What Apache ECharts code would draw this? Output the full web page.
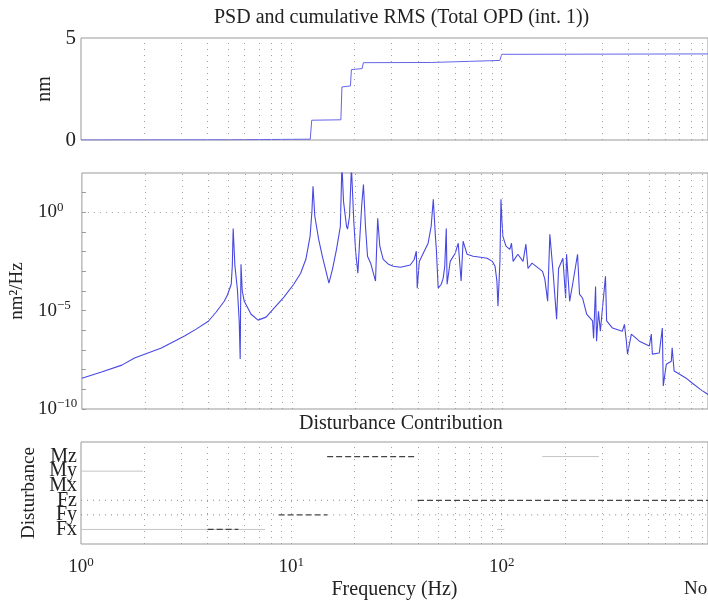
<!DOCTYPE html>
<html>
<head>
<meta charset="utf-8">
<script src="https://cdn.jsdelivr.net/npm/echarts@6/dist/echarts.min.js"></script>
<style>
html,body{margin:0;padding:0;background:#fff;}
#main{width:708px;height:601px;}
</style>
</head>
<body>
<div id="main"></div>
<script>
// cumulative RMS (nm) vs frequency (Hz)
var rmsFreq = [1, 5.2, 12.3, 12.5, 17.2, 17.4, 19.1, 19.3, 21.7, 22, 46.5, 47.2, 98, 100, 957];
var rmsVal  = [0, 0.01, 0.04, 0.97, 0.99, 2.6, 2.65, 3.45, 3.5, 3.79, 3.8, 3.87, 3.9, 4.2, 4.22];

// PSD (nm^2/Hz) vs frequency (Hz)
var psdFreq = [1, 1.24, 1.55, 1.78, 2.39, 3.08, 3.5, 4.0, 4.35, 4.76, 4.93, 5.14, 5.2, 5.25, 5.35, 5.5, 5.61, 5.67, 5.72, 5.8, 5.93,
  6.39, 6.9, 7.53, 8.22, 9.16, 10.2, 11.0, 11.65, 12.2, 12.45, 12.6, 12.85, 13.4, 13.95, 14.6, 15.0, 15.6, 16.3, 17.0, 17.3,
  17.6, 18.2, 18.4, 18.8, 19.2, 19.7, 20.1, 20.6, 21.0, 21.5, 21.9, 22.4, 22.9, 23.7, 25.0, 25.6, 26.2, 27.2, 28.8, 30.4, 32.9,
  36.6, 38.2, 39.1, 39.5, 40.4, 42.2, 44.5, 46.0, 47.1, 48.2, 48.7, 49.7, 51.4, 52.5, 53.4, 54.3, 54.8, 56.7, 59.9, 61.9, 63.9,
  65.3, 68.2, 72.9, 79, 85, 90, 92.7, 94.6, 95.7, 97.8, 98.9, 100, 101, 104.5, 109, 111, 113, 119, 126, 130, 133,
  139, 156, 160, 165, 169, 175, 182, 186, 195, 201, 203, 210, 217, 229, 234, 242, 253, 270, 273, 279, 282, 288, 294, 311, 315, 336, 374,
  383, 391, 396, 413, 451, 503, 514, 520, 561, 580, 586, 606, 640, 646, 660, 698, 750, 804, 880, 957];
var psdVal = [3.7e-9, 7.6e-9, 1.7e-8, 3.9e-8, 1.25e-7, 5.1e-7, 1.15e-6, 2.9e-6, 8.3e-6, 3.0e-5, 6.3e-5, 2.2e-4, 1.8e-3, 0.15, 2e-3, 1.2e-4, 3e-6, 3.5e-8, 2.3e-3, 1e-4, 3e-5,
  6.6e-6, 3.3e-6, 4.7e-6, 1.35e-5, 4.9e-5, 2.2e-4, 8e-4, 4.1e-3, 0.06, 1.1, 21, 0.63, 0.043, 5.9e-3, 8e-4, 2.5e-4, 1.3e-3, 0.013, 0.19, 300,
  3.6, 0.19, 0.14, 0.63, 200, 0.35, 0.0105, 8e-4, 0.034, 2.5, 26, 0.19, 5.9e-3, 2.6e-3, 3.2e-4, 0.5, 0.019, 4.1e-3, 2.3e-3, 1.8e-3, 1.6e-3,
  2.1e-3, 4e-3, 0.0105, 1.4e-4, 3.2e-3, 8.3e-3, 0.027, 0.19, 4.6, 0.06, 0.013, 1.4e-4, 2.2e-4, 4.5e-4, 1.8e-3, 0.15, 2.2e-4, 3.2e-3, 8.3e-3, 0.027, 3.2e-4,
  0.034, 7.4e-3, 5.9e-3, 5.2e-3, 4.6e-3, 3.2e-3, 1.8e-3, 3.2e-4, 1.7e-5, 3.2e-3, 4.6, 0.35, 0.06, 0.019, 0.013, 0.027, 3.2e-3, 7.4e-3, 3.2e-3, 0.024, 1.4e-3,
  2.6e-3, 1e-3, 4e-4, 3e-5, 0.076, 1e-3, 3.7e-6, 1.4e-3, 4.6e-3, 4.3e-5, 7.4e-3, 3e-5, 2.2e-4, 7.4e-3, 6.9e-5, 4.3e-5, 6.6e-6, 3e-6, 4e-7, 1.7e-4, 2.8e-7, 9.4e-6, 9e-7, 5.6e-4, 3e-6, 1.3e-6, 9e-7,
  2e-6, 2.8e-7, 6.2e-8, 6.4e-7, 2.8e-7, 1.6e-7, 6.4e-7, 6.2e-8, 7e-8, 1.3e-6, 1.5e-9, 1.9e-8, 2.7e-8, 1.3e-7, 8.5e-9, 6e-9, 3.8e-9, 2.1e-9, 1e-9, 5.5e-10];

// disturbance contribution: [category index, f start, f end]
var distNames = ['Fx', 'Fy', 'Fz', 'Mx', 'My', 'Mz'];
var strongSegs = [[1, 4.0, 5.6], [2, 8.7, 14.8], [6, 14.8, 39.5], [3, 40, 957]];
var faintSegs  = [[1, 1, 7.5], [5, 1, 1.97], [6, 156, 290], [1, 95, 103]];
var dottedSegs = [[2, 1, 8.7], [2, 14.8, 957], [3, 1, 40]];

// grid line positions
var freqGrid = [2, 3, 4, 5, 6, 7, 8, 9, 10, 20, 30, 40, 50, 60, 70, 80, 90, 100, 200, 300, 400, 500, 600, 700, 800, 900];
var psdGrid = [1, 1e-5];

var fontFam = 'Liberation Serif';
var gridCol = '#a0a0a0';
var lineCol = '#4848e2';

var myChart = echarts.init(document.getElementById('main'));

function pairs(xs, ys) {
	var out = [];
	for (var i = 0; i < xs.length; i++) {
		out.push([xs[i], ys[i]]);
	}
	return out;
}

function supLabel(v) {
	var e = Math.log10(v);
	if (Math.abs(e - Math.round(e)) > 1e-6) return '';
	e = Math.round(e);
	var s = e < 0 ? '\u2212' + (-e) : '' + e;
	return '{b|10}{s|' + s + '}';
}

var richSup = {
	b: {fontSize: 19, fontFamily: fontFam, color: '#222'},
	s: {fontSize: 13, fontFamily: fontFam, color: '#222', padding: [0, 0, 10, 0]}
};

var dotStyle = {type: [1, 5], color: gridCol, width: 1};

var vLines = {
	silent: true, symbol: ['none', 'none'], label: {show: false}, animation: false,
	lineStyle: dotStyle,
	data: freqGrid.map(function (v) { return {xAxis: v}; })
};

var psdLines = {
	silent: true, symbol: ['none', 'none'], label: {show: false}, animation: false,
	lineStyle: dotStyle,
	data: freqGrid.map(function (v) { return {xAxis: v}; }).concat(psdGrid.map(function (v) { return {yAxis: v}; }))
};

var hiddenX = function (idx) {
	return {
		type: 'log', logBase: 10, gridIndex: idx, min: 1, max: 957,
		axisLine: {show: false}, axisTick: {show: false}, axisLabel: {show: false}, splitLine: {show: false}
	};
};

var series = [
	{
		type: 'line', xAxisIndex: 0, yAxisIndex: 0, showSymbol: false, animation: false,
		lineStyle: {color: '#6464e6', width: 1}, data: pairs(rmsFreq, rmsVal), markLine: vLines
	},
	{
		type: 'line', xAxisIndex: 1, yAxisIndex: 1, showSymbol: false, animation: false,
		lineStyle: {color: lineCol, width: 1.1}, data: pairs(psdFreq, psdVal), markLine: psdLines
	}
];

function addSegs(segs, style, withGrid) {
	for (var i = 0; i < segs.length; i++) {
		var s = {
			type: 'line', xAxisIndex: 2, yAxisIndex: 2, showSymbol: false, animation: false,
			lineStyle: style, data: [[segs[i][1], segs[i][0]], [segs[i][2], segs[i][0]]]
		};
		if (withGrid && i == 0) s.markLine = vLines;
		series.push(s);
	}
}
addSegs(dottedSegs, {color: '#888', width: 1, type: [1, 5]}, true);
addSegs(faintSegs, {color: '#c4c4c4', width: 1}, false);
addSegs(strongSegs, {color: '#444', width: 1.2, type: [6, 3]}, false);

var option = {
	backgroundColor: '#fff',
	title: [
		{text: 'PSD and cumulative RMS (Total OPD (int. 1))', left: 209, top: 3,
		 textStyle: {fontFamily: fontFam, fontSize: 20, fontWeight: 'normal', color: '#222'}},
		{text: 'Disturbance Contribution', left: 294, top: 409,
		 textStyle: {fontFamily: fontFam, fontSize: 20, fontWeight: 'normal', color: '#222'}}
	],
	grid: [
		{left: 81, right: -2, top: 38, height: 102, show: true, borderColor: '#999', borderWidth: 1},
		{left: 81, right: -2, top: 173, height: 236, show: true, borderColor: '#999', borderWidth: 1},
		{left: 81, right: -2, top: 442, height: 102, show: true, borderColor: '#999', borderWidth: 1}
	],
	xAxis: [
		hiddenX(0),
		hiddenX(1),
		{
			type: 'log', logBase: 10, gridIndex: 2, min: 1, max: 957,
			name: 'Frequency (Hz)', nameLocation: 'middle', nameGap: 36,
			nameTextStyle: {fontFamily: fontFam, fontSize: 20, color: '#222'},
			axisLine: {show: false}, axisTick: {show: false}, splitLine: {show: false},
			axisLabel: {margin: 12, showMaxLabel: false, formatter: supLabel, rich: richSup}
		}
	],
	yAxis: [
		{
			type: 'value', gridIndex: 0, min: 0, max: 5, interval: 5,
			name: 'nm', nameLocation: 'middle', nameGap: 20,
			nameTextStyle: {fontFamily: fontFam, fontSize: 20, color: '#222'},
			axisLine: {show: false}, axisTick: {show: false}, splitLine: {show: false},
			axisLabel: {margin: 5, fontFamily: fontFam, fontSize: 21, color: '#222'}
		},
		{
			type: 'log', logBase: 10, gridIndex: 1, min: 1e-10, max: 1e2, interval: 1, splitNumber: 12,
			name: 'nm\u00b2/Hz', nameLocation: 'middle', nameGap: 48,
			nameTextStyle: {fontFamily: fontFam, fontSize: 19, color: '#222'},
			axisLine: {show: false}, splitLine: {show: false},
			axisTick: {show: true, inside: true, length: 4, lineStyle: {color: '#999'}},
			axisLabel: {
				margin: 44, align: 'left', showMaxLabel: false,
				formatter: function (v) {
					var e = Math.round(Math.log10(v));
					if (e % 5 != 0) return '';
					return supLabel(v);
				},
				rich: richSup
			}
		},
		{
			type: 'value', gridIndex: 2, min: 0, max: 7, interval: 1,
			name: 'Disturbance', nameLocation: 'middle', nameGap: 38,
			nameTextStyle: {fontFamily: fontFam, fontSize: 19, color: '#222'},
			axisLine: {show: false}, axisTick: {show: false}, splitLine: {show: false},
			axisLabel: {
				margin: 4, fontFamily: fontFam, fontSize: 20, color: '#222', lineHeight: 14,
				formatter: function (v) { return distNames[v - 1] || ''; }
			}
		}
	],
	graphic: [
		{type: 'text', left: 684, top: 580, style: {text: 'No', fontFamily: fontFam, fontSize: 19, fill: '#222'}}
	],
	series: series
};

myChart.setOption(option);
</script>
</body>
</html>
